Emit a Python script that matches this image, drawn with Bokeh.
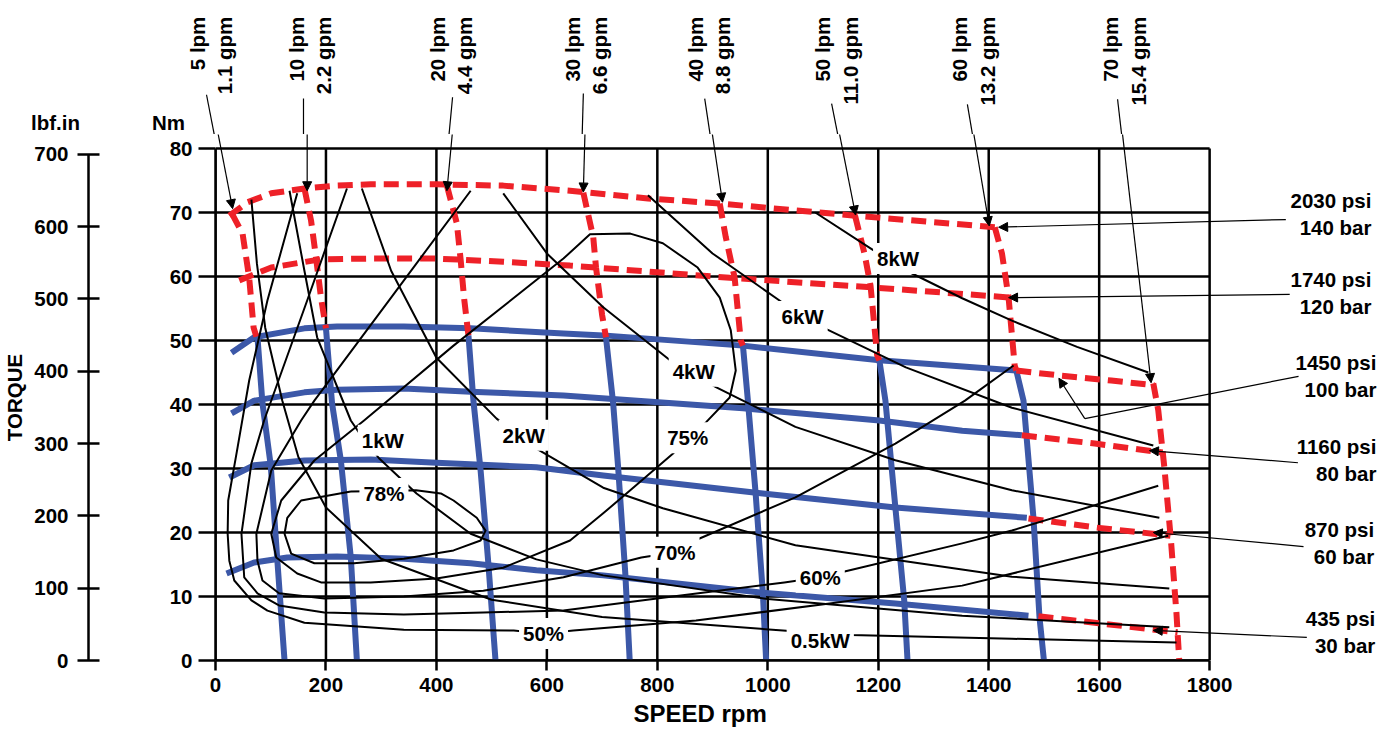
from bokeh.plotting import figure
from bokeh.layouts import column, row
from bokeh.models import Range1d, LinearAxis, FixedTicker, Label, Arrow, NormalHead, Title
from bokeh.embed import file_html
from bokeh.resources import INLINE

# ---------------- data (speed rpm, torque Nm) ----------------
X_TICKS = [0, 200, 400, 600, 800, 1000, 1200, 1400, 1600, 1800]
NM_TICKS = [0, 10, 20, 30, 40, 50, 60, 70, 80]
LBF_TICKS = [0, 100, 200, 300, 400, 500, 600, 700]

# blue iso-pressure curves (continuous region)
P30_RPM = [20, 70, 130, 220, 341, 462, 581, 702, 991, 1231, 1472]
P30_NM = [13.6, 15.3, 16.1, 16.25, 15.9, 15.2, 14.1, 13.3, 10.6, 8.9, 7.0]
P60_RPM = [25, 70, 161, 281, 400, 581, 702, 991, 1231, 1469]
P60_NM = [28.6, 30.5, 31.25, 31.4, 30.9, 30.2, 28.9, 26.1, 23.9, 22.3]
P80_RPM = [29, 70, 161, 220, 341, 462, 630, 955, 1202, 1352, 1460]
P80_NM = [38.6, 40.6, 41.9, 42.3, 42.5, 42.0, 41.4, 39.4, 37.5, 35.9, 35.2]
P100_RPM = [29, 70, 161, 220, 341, 462, 630, 702, 955, 1202, 1450]
P100_NM = [48.1, 50.5, 51.9, 52.2, 52.2, 51.9, 51.1, 50.8, 49.2, 46.9, 45.3]

# blue iso-flow lines
F5_RPM, F5_NM = [76, 85, 100, 112, 125], [50.5, 40.2, 30.5, 15.6, 0]
F10_RPM, F10_NM = [200, 211, 227, 245, 256], [51.9, 40.2, 31.25, 16.1, 0]
F20_RPM, F20_NM = [458, 467, 480, 494, 507], [50.8, 40.6, 29.7, 15.2, 0]
F30_RPM, F30_NM = [707, 720, 729, 742, 750], [50.5, 40.2, 30.2, 13.6, 0]
F40_RPM, F40_NM = [955, 964, 978, 991, 997], [49.2, 40.6, 26.1, 10.6, 0]
F50_RPM, F50_NM = [1202, 1213, 1231, 1247, 1253], [46.9, 40.6, 23.9, 9.4, 0]
F60_RPM, F60_NM = [1450, 1463, 1481, 1492, 1500], [45.3, 40.6, 22.3, 6.7, 0]

# red dashed (intermittent region)
R140_RPM = [25, 58, 101, 161, 220, 281, 400, 521, 642, 783, 913, 1158, 1411]
R140_NM = [69.5, 71.6, 73.0, 73.75, 74.2, 74.4, 74.4, 74.2, 73.4, 72.2, 71.4, 69.5, 67.7]
R120_RPM = [43, 101, 191, 281, 400, 521, 642, 780, 931, 1189, 1442]
R120_NM = [59.4, 61.4, 62.7, 62.8, 62.8, 62.3, 61.7, 60.8, 59.8, 58.3, 56.7]
RF5_RPM, RF5_NM = [30, 49, 61, 69, 74], [69.8, 66.7, 59.8, 52, 50.6]
RF10_RPM, RF10_NM = [161, 173, 182, 191, 200], [73.75, 68.75, 63, 56.7, 51.9]
RF20_RPM, RF20_NM = [419, 437, 444, 450, 458], [74.2, 68.3, 62.5, 56.7, 50.8]
RF30_RPM, RF30_NM = [666, 684, 689, 700, 707], [73.1, 66.1, 61.4, 54, 50.5]
RF40_RPM, RF40_NM = [913, 924, 940, 951, 955], [71.4, 66.1, 59.8, 50, 49.2]
RF50_RPM, RF50_NM = [1158, 1175, 1186, 1198, 1202], [69.5, 63.6, 58.6, 47.7, 46.9]
RF60_RPM, RF60_NM = [1411, 1424, 1436, 1447, 1450], [67.7, 63.6, 56.7, 46.1, 45.3]
RF70_RPM, RF70_NM = [1698, 1707, 1718, 1730, 1740, 1745], [43.3, 39.1, 30.2, 18.75, 7.3, 0]
R100X_RPM, R100X_NM = [1450, 1532, 1622, 1700], [45.3, 44.5, 43.75, 43.0]
R80X_RPM, R80X_NM = [1460, 1592, 1715], [35.2, 33.9, 32.5]
R60X_RPM, R60X_NM = [1472, 1592, 1729], [22.2, 20.8, 19.5]
R30X_RPM, R30X_NM = [1490, 1592, 1742], [6.9, 5.9, 4.4]

# black iso-power curves
KW05_RPM = [65, 75, 90, 121, 150, 200, 300, 500, 700, 1040, 1150, 1442, 1740]
KW05_NM = [72.0, 62.0, 52.0, 40.6, 31.8, 23.9, 15.9, 9.5, 6.8, 4.6, 4.0, 3.4, 2.8]
KW1_RPM = [134, 161, 184, 245, 260, 296, 364, 462, 581, 702, 1000, 1352, 1727]
KW1_NM = [73.4, 60.9, 50.5, 37.5, 35.6, 31.6, 26.1, 19.8, 15.8, 13.3, 9.6, 7.0, 5.2]
KW2_RPM = [265, 318, 400, 509, 581, 702, 810, 1050, 1442, 1727]
KW2_NM = [73.75, 60.9, 47.3, 37.8, 33.1, 27.0, 23.8, 18.0, 13.1, 11.25]
KW4_RPM = [521, 600, 702, 823, 906, 1050, 1231, 1442, 1709]
KW4_NM = [73.0, 63.6, 55.2, 46.9, 42.7, 36.5, 31.3, 26.6, 22.3]
KW6_RPM = [783, 900, 1027, 1108, 1250, 1442, 1698]
KW6_NM = [72.7, 63.6, 55.9, 51.7, 45.8, 39.5, 33.6]
KW8_RPM = [1086, 1186, 1243, 1352, 1442, 1560, 1689]
KW8_NM = [70.0, 64.4, 61.25, 56.6, 53.1, 49.0, 45.0]

# black efficiency contours
E78_RPM = [245, 305, 363, 408, 431, 473, 489, 480, 431, 341, 251, 179, 137, 125, 130, 155, 245]
E78_NM = [26.4, 26.5, 26.6, 26.1, 25, 22.3, 20.3, 18.75, 17.2, 15.9, 15.2, 15.2, 16.7, 19.8, 22.3, 25, 26.4]
E75_RPM = [855, 828, 751, 702, 642, 521, 400, 281, 191, 148, 110, 101, 119, 179, 269, 431, 630, 678,
           751, 810, 873, 913, 933, 942, 931, 888, 855]
E75_NM = [34.8, 32.3, 26.6, 23, 18.75, 14.5, 12.8, 12.2, 12.2, 13.6, 16.1, 19.8, 25, 31.25, 37.5, 49.2, 62.8, 66.6,
          66.7, 65.2, 61.4, 56.7, 51.6, 45.3, 41.1, 37.2, 34.8]
E70_RPM = [462, 323, 179, 155, 101, 74, 76, 85, 115, 197, 341, 485, 630, 771, 832, 868, 1050, 1231, 1357, 1445]
E70_NM = [73.4, 57.3, 40.6, 37.5, 29.7, 19.8, 15.6, 12.5, 10.5, 9.7, 10, 10.9, 13, 16.1, 16.9, 18.75, 25.5, 33.9, 40.6, 46.1]
E60_RPM = [238, 166, 88, 65, 47, 52, 76, 115, 197, 341, 485, 630, 810, 1030, 1095, 1139, 1352, 1442, 1707]
E60_NM = [73.75, 56.25, 37.5, 30.8, 19.8, 13, 10.5, 8.6, 7.5, 7.2, 7.5, 7.8, 9.8, 12.2, 13, 13.9, 18.3, 20.3, 27.3]
E50_RPM = [148, 94, 61, 40, 23, 22, 25, 34, 65, 94, 161, 341, 540, 594, 648, 870, 1112, 1352, 1725]
E50_NM = [73.0, 56.25, 43.75, 33.3, 25, 19.8, 15.6, 12.5, 9.4, 7.8, 5.9, 4.8, 4.7, 4.2, 4.7, 6.25, 8.9, 11.7, 19.5]

CURVE_LABELS = ["1kW", "2kW", "4kW", "6kW", "8kW", "0.5kW", "78%", "75%", "70%", "60%", "50%"]
CURVE_LABEL_RPM = [303, 558, 866, 1063, 1236, 1095, 305, 855, 832, 1095, 594]
CURVE_LABEL_NM = [34.4, 35.2, 45.2, 53.75, 62.8, 3.1, 26.1, 34.8, 16.9, 13.0, 4.2]

FLOW_TEXT = ["5 lpm\n1.1 gpm", "10 lpm\n2.2 gpm", "20 lpm\n4.4 gpm", "30 lpm\n6.6 gpm",
             "40 lpm\n8.8 gpm", "50 lpm\n11.0 gpm", "60 lpm\n13.2 gpm", "70 lpm\n15.4 gpm"]
FLOW_TEXT_RPM = [-1, 178, 432, 676, 898, 1128, 1375, 1648]
FLOW_ARROW_START = [(-9, 88.4), (166, 87.8), (435, 88.0), (671, 88.6), (890, 87.8), (1119, 87.0), (1364, 86.9), (1635, 87.7)]
FLOW_ARROW_END = [(31, 70.6), (166, 73.4), (419, 73.4), (666, 73.2), (918, 71.6), (1159, 69.6), (1401, 67.9), (1694, 43.4)]

UNIT_TEXT = ["lbf.in", "Nm"]
UNIT_TEXT_RPM = [-281.5, -77.5]

PRESS_TEXT = ["2030 psi\n140 bar", "1740 psi\n120 bar", "1450 psi\n100 bar",
              "1160 psi\n80 bar", "870 psi\n60 bar", "435 psi\n30 bar"]
PRESS_TEXT_RPM = [2093, 2093, 2102, 2102, 2098, 2100]
PRESS_TEXT_NM = [69.7, 57.4, 44.5, 31.3, 18.3, 4.45]
PRESS_ARROW_START = [(1938, 68.9), (1945, 57.2), (1574, 37.8), (1960, 30.9), (1970, 17.8), (1976, 3.6)]
PRESS_ARROW_END = [(1418, 67.7), (1436, 56.7), (1527, 44.1), (1691, 32.8), (1698, 20.0), (1698, 4.7)]
PRESS100_LEADER = [(1961, 44.4), (1574, 37.8)]

# ---------------- layout / styling ----------------
FONT = "Liberation Sans"
FS = "20.5px"
BLUE = "#3c58a8"
RED = "#ee2128"
NM_PER_LBFIN = 0.11298

W = 1393                 # total width in px
H = 733
LEFT = 211               # px left of the 0 rpm line
SPLIT = 185              # px where the top strip is split (between "Nm" and "5 lpm")
TOP_H = 134              # height of the strip above the torque chart
ZERO_Y = 660             # px of 0 Nm from the top
MAIN_H = H - TOP_H
BOTTOM = H - ZERO_Y
PX_PER_RPM = 997.5 / 1800.0
PX_PER_NM = 6.4
X_END = (W - LEFT) / PX_PER_RPM
X_START = -LEFT / PX_PER_RPM
X_SPLIT = (SPLIT - LEFT) / PX_PER_RPM
Y_END_MAIN = (ZERO_Y - TOP_H) / PX_PER_NM
Y_END_TOP = ZERO_Y / PX_PER_NM


def make_label(x, y, text, **kw):
    opts = dict(text_font=FONT, text_font_style="bold", text_font_size=FS, text_color="black",
                text_align="center", text_baseline="middle")
    opts.update(kw)
    return Label(x=x, y=y, text=text, **opts)


def make_arrow(x0, y0, x1, y1, head=True):
    return Arrow(x_start=x0, y_start=y0, x_end=x1, y_end=y1, line_width=1.2, line_color="black",
                 end=NormalHead(size=9, fill_color="black", line_color="black", line_width=1) if head else None)


def strip(width, xr):
    f = figure(width=width, height=TOP_H, output_backend="svg", toolbar_location=None,
               x_range=xr, y_range=Range1d(Y_END_MAIN, Y_END_TOP),
               x_axis_type=None, y_axis_type=None,
               min_border_left=0, min_border_right=0, min_border_top=0, min_border_bottom=0)
    f.outline_line_color = None
    f.background_fill_color = "white"
    f.border_fill_color = "white"
    return f


# ---- strip above the chart: unit labels (left part), flow labels (right part) ----
top_left = strip(SPLIT, Range1d(X_START, X_SPLIT))
for t, x in zip(UNIT_TEXT, UNIT_TEXT_RPM):
    top_left.add_layout(make_label(x, 84.06, t))

top_right = strip(W - SPLIT, Range1d(X_SPLIT, X_END))
for t, x in zip(FLOW_TEXT, FLOW_TEXT_RPM):
    top_right.add_layout(make_label(x, 100.6, t, angle=1.5707963, text_align="right", text_line_height=1.2))
for (x0, y0), (x1, y1) in zip(FLOW_ARROW_START, FLOW_ARROW_END):
    top_right.add_layout(make_arrow(x0, y0, x1, y1))

# ---- main chart ----
p = figure(width=W, height=MAIN_H, output_backend="svg", toolbar_location=None,
           x_range=Range1d(0, X_END), y_range=Range1d(0, Y_END_MAIN),
           min_border_left=LEFT, min_border_right=0, min_border_top=0, min_border_bottom=BOTTOM)
p.extra_y_ranges = {"lbf": Range1d(0, Y_END_MAIN / NM_PER_LBFIN)}
p.background_fill_color = "white"
p.border_fill_color = "white"
p.outline_line_color = None
p.xgrid.grid_line_color = None
p.ygrid.grid_line_color = None


def style_axis(ax):
    ax.axis_line_color = "black"
    ax.axis_line_width = 2.5
    ax.major_tick_line_color = "black"
    ax.major_tick_line_width = 2.5
    ax.minor_tick_line_color = None
    ax.major_label_text_font = FONT
    ax.major_label_text_font_style = "bold"
    ax.major_label_text_font_size = FS
    ax.major_label_text_color = "black"


xa = p.xaxis[0]
style_axis(xa)
xa.ticker = FixedTicker(ticks=X_TICKS)
xa.bounds = (0, 1800)
xa.major_tick_in = 0
xa.major_tick_out = 10
xa.major_label_standoff = 7

ya = p.yaxis[0]
style_axis(ya)
ya.ticker = FixedTicker(ticks=NM_TICKS)
ya.bounds = (0, 80)
ya.major_tick_in = 0
ya.major_tick_out = 17
ya.major_label_standoff = 6
ya.axis_label = " "
ya.axis_label_text_font_size = "10px"
ya.axis_label_standoff = 64

la = LinearAxis(y_range_name="lbf")
style_axis(la)
la.ticker = FixedTicker(ticks=LBF_TICKS)
la.major_tick_in = 11
la.major_tick_out = 11
la.major_label_standoff = 9
la.bounds = (-25, 700)
la.axis_label = "TORQUE"
la.axis_label_text_font = FONT
la.axis_label_text_font_style = "bold"
la.axis_label_text_font_size = FS
la.axis_label_text_color = "black"
la.axis_label_standoff = 5
p.add_layout(la, "left")

p.add_layout(Title(text="SPEED rpm", align="left", offset=418, standoff=7,
                   text_font=FONT, text_font_style="bold", text_font_size="24px", text_color="black"), "below")

# grid (bounded to the chart area)
p.segment(x0=X_TICKS, y0=[NM_TICKS[0]] * len(X_TICKS), x1=X_TICKS, y1=[NM_TICKS[-1]] * len(X_TICKS),
          line_color="black", line_width=2.5)
p.segment(x0=[X_TICKS[0]] * len(NM_TICKS), y0=NM_TICKS, x1=[X_TICKS[-1]] * len(NM_TICKS), y1=NM_TICKS,
          line_color="black", line_width=2.5)

# blue lines
for xs, ys in [(P30_RPM, P30_NM), (P60_RPM, P60_NM), (P80_RPM, P80_NM), (P100_RPM, P100_NM),
               (F5_RPM, F5_NM), (F10_RPM, F10_NM), (F20_RPM, F20_NM), (F30_RPM, F30_NM),
               (F40_RPM, F40_NM), (F50_RPM, F50_NM), (F60_RPM, F60_NM)]:
    p.line(xs, ys, line_color=BLUE, line_width=6, line_join="round")

# red dashed lines
for xs, ys in [(R140_RPM, R140_NM), (R120_RPM, R120_NM), (RF5_RPM, RF5_NM), (RF10_RPM, RF10_NM),
               (RF20_RPM, RF20_NM), (RF30_RPM, RF30_NM), (RF40_RPM, RF40_NM), (RF50_RPM, RF50_NM),
               (RF60_RPM, RF60_NM), (RF70_RPM, RF70_NM), (R100X_RPM, R100X_NM), (R80X_RPM, R80X_NM),
               (R60X_RPM, R60X_NM), (R30X_RPM, R30X_NM)]:
    p.line(xs, ys, line_color=RED, line_width=6, line_dash="15 8")

# black curves
for xs, ys in [(KW05_RPM, KW05_NM), (KW1_RPM, KW1_NM), (KW2_RPM, KW2_NM), (KW4_RPM, KW4_NM),
               (KW6_RPM, KW6_NM), (KW8_RPM, KW8_NM), (E78_RPM, E78_NM), (E75_RPM, E75_NM),
               (E70_RPM, E70_NM), (E60_RPM, E60_NM), (E50_RPM, E50_NM)]:
    p.line(xs, ys, line_color="black", line_width=2, line_join="round")

for t, x, y in zip(CURVE_LABELS, CURVE_LABEL_RPM, CURVE_LABEL_NM):
    p.add_layout(make_label(x, y, t, background_fill_color="white", padding=4))

for (x0, y0), (x1, y1) in zip(FLOW_ARROW_START, FLOW_ARROW_END):
    p.add_layout(make_arrow(x0, y0, x1, y1))

for t, x, y in zip(PRESS_TEXT, PRESS_TEXT_RPM, PRESS_TEXT_NM):
    p.add_layout(make_label(x, y, t, text_align="right", text_line_height=1.18))
for (x0, y0), (x1, y1) in zip(PRESS_ARROW_START, PRESS_ARROW_END):
    p.add_layout(make_arrow(x0, y0, x1, y1))
(lx0, ly0), (lx1, ly1) = PRESS100_LEADER
p.add_layout(make_arrow(lx0, ly0, lx1, ly1, head=False))

layout = column(row(top_left, top_right, spacing=0), p, spacing=0)
open("out.html", "w").write(file_html(layout, INLINE))
